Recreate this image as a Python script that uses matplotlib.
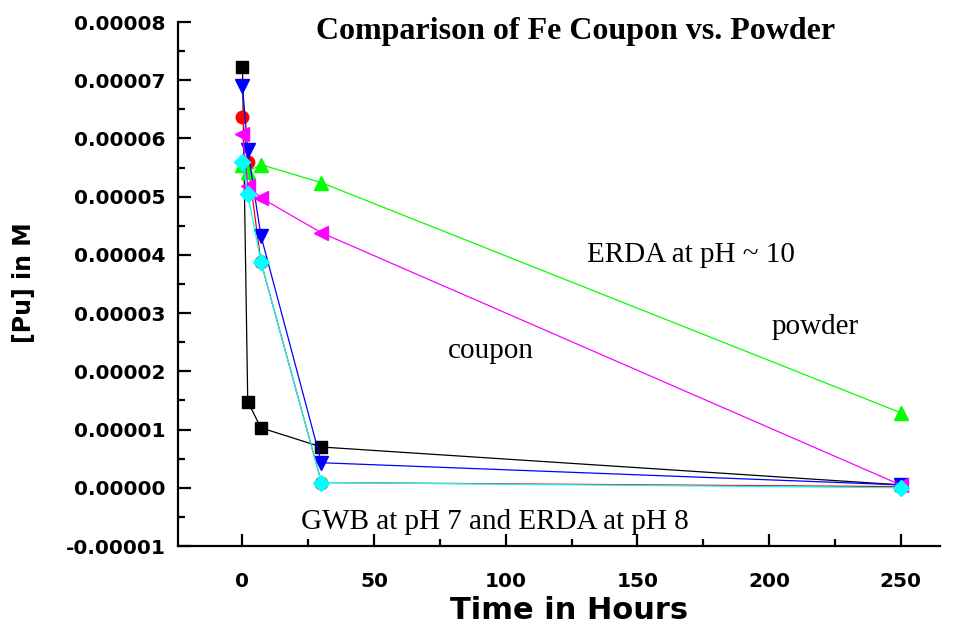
import matplotlib
matplotlib.use("Agg")
import matplotlib.pyplot as plt
from matplotlib.ticker import MultipleLocator, FuncFormatter

hours = [0, 2, 7, 30, 250]
black_sq = [7.22e-5, 1.48e-5, 1.03e-5, 0.70e-5, 0.05e-5]
red_circ = [6.37e-5, 5.60e-5, 3.88e-5, 0.09e-5, 0.02e-5]
green_up = [5.55e-5, 5.43e-5, 5.55e-5, 5.24e-5, 1.29e-5]
blue_down = [6.90e-5, 5.80e-5, 4.33e-5, 0.43e-5, 0.05e-5]
magenta_left = [6.07e-5, 5.19e-5, 4.98e-5, 4.38e-5, 0.05e-5]
cyan_diam = [5.60e-5, 5.05e-5, 3.88e-5, 0.09e-5, 0.00e-5]

title = "Comparison of Fe Coupon vs. Powder"
xlabel = "Time in Hours"
ylabel = "[Pu] in M"
notes = ["ERDA at pH ~ 10", "powder", "coupon", "GWB at pH 7 and ERDA at pH 8"]

W, H = 958, 627
fig = plt.figure(figsize=(W / 100, H / 100), dpi=100)
ax = fig.add_axes([178 / W, 1 - 546 / H, (940 - 178) / W, (546 - 22) / H])

series = [
    (black_sq, "#000000", "s", 8.5),
    (red_circ, "#ff0000", "o", 9),
    (green_up, "#00ff00", "^", 10),
    (blue_down, "#0000ff", "v", 10),
    (magenta_left, "#ff00ff", "<", 10),
    (cyan_diam, "#00ffff", "D", 8),
]
for ys, c, m, ms in series:
    ax.plot(hours, ys, color=c, lw=0.9, marker=m, ms=ms, mec=c, mfc=c, clip_on=False)

ax.set_xlim(-24.5, 265)
ax.set_ylim(-1e-5, 8e-5)
ax.spines["top"].set_visible(False)
ax.spines["right"].set_visible(False)
for s in ("left", "bottom"):
    ax.spines[s].set_linewidth(1.6)

ax.xaxis.set_major_locator(MultipleLocator(50))
ax.xaxis.set_minor_locator(MultipleLocator(25))
ax.yaxis.set_major_locator(MultipleLocator(1e-5))
ax.yaxis.set_minor_locator(MultipleLocator(0.5e-5))
ax.yaxis.set_major_formatter(FuncFormatter(lambda v, p: f"{v:.5f}" if abs(v) > 1e-12 else "0.00000"))
ax.tick_params(which="major", direction="in", length=9, width=1.6)
ax.tick_params(which="minor", direction="in", length=5, width=1.6)
ax.tick_params(axis="y", pad=9)
ax.tick_params(axis="x", pad=19)
for lab in ax.get_xticklabels() + ax.get_yticklabels():
    lab.set_fontfamily("DejaVu Sans")
    lab.set_fontweight("bold")
    lab.set_fontsize(14.5)

ax.set_xlabel(xlabel, fontfamily="DejaVu Sans", fontweight="bold", fontsize=22)
ax.xaxis.set_label_coords((569 - 178) / 762, -(596 - 546) / 524)
ax.set_ylabel(ylabel, fontfamily="DejaVu Sans", fontweight="bold", fontsize=17)
ax.yaxis.set_label_coords((36 - 178) / 762, (546 - 283) / 524)

fig.text(576 / W, 1 - 31 / H, title, ha="center", va="center",
         fontfamily="Liberation Serif", fontweight="bold", fontsize=23)

tkw = dict(fontfamily="Liberation Serif", fontsize=21, ha="center", va="center")
fig.text(691 / W, 1 - 255 / H, notes[0], **tkw)
fig.text(815 / W, 1 - 327 / H, notes[1], **tkw)
fig.text(491 / W, 1 - 351 / H, notes[2], **tkw)
fig.text(495 / W, 1 - 522 / H, notes[3], **tkw)

fig.savefig("out.png", dpi=100)
